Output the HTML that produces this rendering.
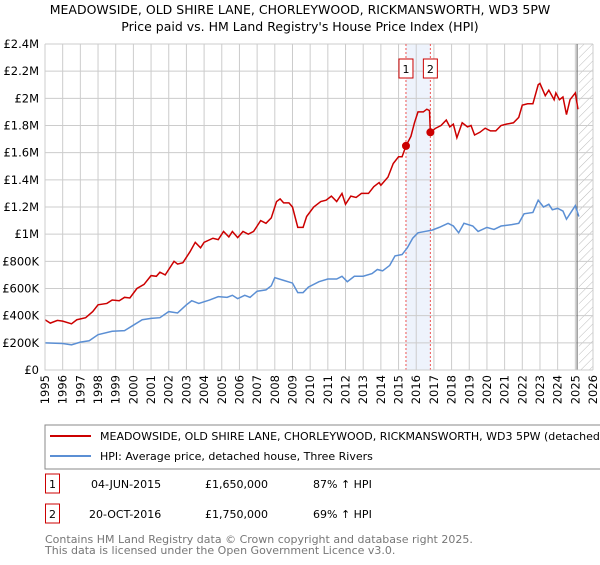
<!DOCTYPE html>
<html><head><meta charset="utf-8"><style>
body{margin:0;background:#fff;font-family:"Liberation Sans","DejaVu Sans",sans-serif;}
svg text{font-family:"DejaVu Sans","Liberation Sans",sans-serif;}
</style></head><body>
<svg id="c" width="600" height="560" xmlns="http://www.w3.org/2000/svg">
<defs><pattern id="hatch" width="6" height="6" patternUnits="userSpaceOnUse" patternTransform="rotate(45)"><line x1="0" y1="0" x2="0" y2="6" stroke="#bbb" stroke-width="1"/></pattern></defs>
<text x="300" y="14" text-anchor="middle" font-size="12.5">MEADOWSIDE, OLD SHIRE LANE, CHORLEYWOOD, RICKMANSWORTH, WD3 5PW</text>
<text x="300" y="31" text-anchor="middle" font-size="12.5">Price paid vs. HM Land Registry's House Price Index (HPI)</text>
<g id="grid"></g><g id="marks"></g><g id="axes"></g>
<rect x="45" y="425" width="570" height="44" fill="none" stroke="#888"/>
<line x1="50" y1="436" x2="91" y2="436" stroke="#cc0000" stroke-width="2"/>
<text x="100" y="440" font-size="11">MEADOWSIDE, OLD SHIRE LANE, CHORLEYWOOD, RICKMANSWORTH, WD3 5PW (detached house)</text>
<line x1="50" y1="456" x2="91" y2="456" stroke="#5b8fd4" stroke-width="2"/>
<text x="100" y="460" font-size="11">HPI: Average price, detached house, Three Rivers</text>
<rect x="45.5" y="474" width="14" height="19" fill="none" stroke="#cc0000"/>
<text x="52.5" y="488" font-size="11" text-anchor="middle">1</text>
<text x="91" y="488" font-size="11">04-JUN-2015</text>
<text x="205" y="488" font-size="11">£1,650,000</text>
<text x="313" y="488" font-size="11">87% ↑ HPI</text>
<rect x="45.5" y="504" width="14" height="19" fill="none" stroke="#cc0000"/>
<text x="52.5" y="518" font-size="11" text-anchor="middle">2</text>
<text x="89" y="518" font-size="11">20-OCT-2016</text>
<text x="205" y="518" font-size="11">£1,750,000</text>
<text x="313" y="518" font-size="11">69% ↑ HPI</text>
<text x="45" y="543" font-size="11" fill="#777">Contains HM Land Registry data © Crown copyright and database right 2025.</text>
<text x="45" y="554" font-size="11" fill="#777">This data is licensed under the Open Government Licence v3.0.</text>
</svg>
<script>
const yTicks=[0,200,400,600,800,1000,1200,1400,1600,1800,2000,2200,2400];
const yTickLabels=["£0","£200K","£400K","£600K","£800K","£1M","£1.2M","£1.4M","£1.6M","£1.8M","£2M","£2.2M","£2.4M"];
const xYears=[1995,1996,1997,1998,1999,2000,2001,2002,2003,2004,2005,2006,2007,2008,2009,2010,2011,2012,2013,2014,2015,2016,2017,2018,2019,2020,2021,2022,2023,2024,2025,2026];
const propT=[1995,1995.3,1995.7,1996,1996.5,1996.8,1997.3,1997.7,1998,1998.5,1998.8,1999.2,1999.5,1999.8,2000.2,2000.6,2001,2001.3,2001.5,2001.8,2002.3,2002.5,2002.8,2003.2,2003.5,2003.8,2004,2004.5,2004.8,2005.1,2005.4,2005.6,2005.9,2006.2,2006.5,2006.8,2007.2,2007.5,2007.8,2008.1,2008.3,2008.5,2008.8,2009,2009.3,2009.6,2009.8,2010.2,2010.6,2010.9,2011.2,2011.5,2011.8,2012,2012.3,2012.6,2012.9,2013.3,2013.6,2013.9,2014,2014.4,2014.7,2015,2015.2,2015.42,2015.7,2015.9,2016.1,2016.4,2016.6,2016.75,2016.8,2017.1,2017.4,2017.7,2017.9,2018.1,2018.3,2018.6,2018.9,2019.1,2019.3,2019.6,2019.9,2020.2,2020.5,2020.8,2021.1,2021.5,2021.8,2022,2022.3,2022.6,2022.9,2023,2023.3,2023.5,2023.8,2023.9,2024.1,2024.3,2024.5,2024.7,2025,2025.15];
const propV=[370,345,365,360,340,370,385,430,480,490,515,510,535,530,600,630,695,690,720,700,800,780,790,870,940,900,940,970,960,1020,980,1020,975,1020,1000,1020,1100,1080,1120,1240,1260,1230,1230,1200,1050,1050,1130,1200,1240,1250,1280,1240,1300,1220,1280,1270,1300,1300,1350,1380,1360,1420,1520,1570,1570,1650,1720,1820,1900,1900,1920,1910,1750,1780,1800,1840,1790,1810,1710,1820,1790,1800,1730,1750,1780,1760,1760,1800,1810,1820,1860,1950,1960,1960,2100,2110,2020,2060,1990,2040,1990,2010,1880,1990,2040,1920];
const hpiT=[1995,1996,1996.5,1997,1997.5,1998,1998.8,1999.5,2000,2000.5,2001,2001.5,2002,2002.5,2003,2003.3,2003.7,2004.3,2004.8,2005.3,2005.6,2005.9,2006.3,2006.6,2007,2007.5,2007.8,2008,2008.5,2009,2009.3,2009.6,2009.9,2010.5,2011,2011.5,2011.8,2012.1,2012.5,2013,2013.5,2013.8,2014.1,2014.5,2014.8,2015.2,2015.5,2015.8,2016.1,2016.5,2016.9,2017.3,2017.8,2018.1,2018.4,2018.7,2019.2,2019.5,2020,2020.4,2020.8,2021.4,2021.8,2022.1,2022.6,2022.9,2023.2,2023.5,2023.7,2024,2024.3,2024.5,2024.8,2025,2025.2];
const hpiV=[200,195,185,205,215,260,285,290,330,370,380,385,430,420,480,510,490,515,540,535,550,525,550,535,580,590,620,680,660,640,570,570,610,650,670,670,690,650,690,690,710,740,730,770,840,850,900,970,1010,1020,1030,1050,1080,1060,1010,1080,1060,1020,1050,1035,1060,1070,1080,1150,1160,1250,1200,1220,1180,1190,1170,1110,1170,1210,1130];
const saleT=[2015.42,2016.8];
const saleV=[1650,1750];
const saleLabels=["1","2"];

const NS="http://www.w3.org/2000/svg";
const X0=45,X1=593,Y0=370,Y1=44;
const x=t=>X0+(t-1995)*(X1-X0)/31;
const y=v=>Y0-v*(Y0-Y1)/2400;
function mk(tag,attrs,parent){const e=document.createElementNS(NS,tag);for(const k in attrs)e.setAttribute(k,attrs[k]);document.getElementById(parent).appendChild(e);return e;}
// shaded band & hatch
let band=mk('rect',{x:x(saleT[0]),y:Y1,width:x(saleT[1])-x(saleT[0]),height:Y0-Y1,fill:'#eef3fc'},'grid');


let hat=mk('rect',{x:x(2025.2),y:Y1,width:X1-x(2025.2),height:Y0-Y1,fill:'url(#hatch)'},'grid');


yTicks.forEach((v,i)=>{
 let l=mk('line',{x1:X0,x2:X1,y1:y(v),y2:y(v),stroke:'#ccc'},'grid');
 
 
 let t=mk('text',{x:X0-6,y:y(v)+4,'text-anchor':'end','font-size':'11.5'},'axes');
 t.textContent=yTickLabels[i];
 
 
});
xYears.forEach(yr=>{
 let l=mk('line',{x1:x(yr),x2:x(yr),y1:Y1,y2:Y0,stroke:'#ccc'},'grid');
 
 
 let t=mk('text',{x:0,y:0,'text-anchor':'end','font-size':'11.5',transform:`translate(${x(yr)+4},${Y0+5}) rotate(-90)`},'axes');
 t.textContent=yr;
 
 
});
let endl=mk('line',{x1:x(2025.1),x2:x(2025.1),y1:Y1,y2:Y0,stroke:'#666'},'grid');


saleT.forEach((t,i)=>{
 let l=mk('line',{x1:x(t),x2:x(t),y1:Y1,y2:Y0,stroke:'#e55','stroke-dasharray':'2,2'},'grid');
 
 
 let r=mk('rect',{x:x(t)-7,y:59,width:14,height:19,fill:'#fff',stroke:'#cc0000'},'marks');
 
 
 let tx=mk('text',{x:x(t),y:73,'text-anchor':'middle','font-size':'11'},'marks');
 tx.textContent=saleLabels[i];
 
 
});
let ax=mk('path',{d:`M${X0},${Y1}V${Y0}H${X1}`,fill:'none',stroke:'#ccc'},'axes');


let hp=mk('polyline',{points:hpiT.map((t,i)=>x(t)+','+y(hpiV[i])).join(' '),fill:'none',stroke:'#5b8fd4','stroke-width':'1.5'},'marks');


let pp=mk('polyline',{points:propT.map((t,i)=>x(t)+','+y(propV[i])).join(' '),fill:'none',stroke:'#cc0000','stroke-width':'1.5'},'marks');


saleT.forEach((t,i)=>{
 let c=mk('circle',{cx:x(t),cy:y(saleV[i]),r:4,fill:'#cc0000'},'marks');
 
 
});
</script>
</body></html>
